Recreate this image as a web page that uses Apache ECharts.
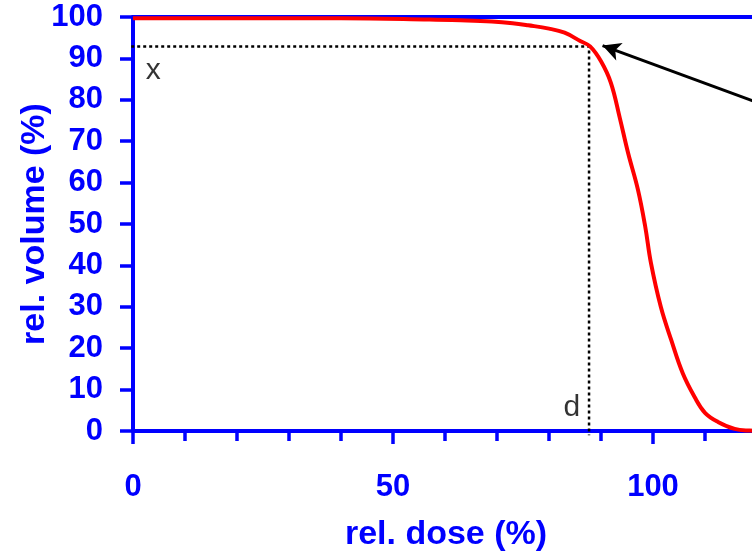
<!DOCTYPE html>
<html>
<head>
<meta charset="utf-8">
<script src="https://cdn.jsdelivr.net/npm/echarts@6/dist/echarts.min.js"></script>
<style>
  html, body { margin: 0; padding: 0; background: #fff; overflow: hidden; }
  /* the plot runs past the right edge of the window, as in the picture */
  #chart { width: 812px; height: 555px; }
</style>
</head>
<body>
<div id="chart"></div>
<script>
// DVH curve
var dose = [0, 40, 57, 63, 69, 73, 76, 80, 83, 86, 87.9, 90, 91.9, 93.6, 95.2, 97.1, 98.5, 99.6, 101.5, 103.5, 105.7, 108, 110, 112.5, 115.7, 118.6, 122, 130]
var volume = [99.7, 99.7, 99.4, 99.2, 98.9, 98.5, 98.0, 97.2, 96.2, 94.2, 92.9, 89.3, 84.1, 75.7, 67.2, 58.3, 49.4, 40.6, 30, 22, 14, 8.2, 4.4, 2.2, 0.5, 0.1, 0, 0]

// dotted guide: from the y axis to the point and down to the x axis
var guideX = [-1.5, 87.7, 87.7]
var guideY = [92.9, 92.9, -1]

// arrow pointing to the curve
var arrowFrom = [126, 76.6]
var arrowTo = [90.3, 93.1]

// text marks
var notes = [
  { name: 'x', value: [3.9, 86.9] },
  { name: 'd', value: [84.4, 5.5] }
]

var xLabels = [0, 50, 100]

var blue = '#0000ff'
var font = "'Liberation Sans', Arial, sans-serif"

var curve = []
for (let i = 0; i < dose.length; i++) {
  curve.push([dose[i], volume[i]])
}
var guide = []
for (let i = 0; i < guideX.length; i++) {
  guide.push([guideX[i], guideY[i]])
}

var myChart = echarts.init(document.getElementById('chart'))
var option = {
  animation: false,
  backgroundColor: '#fff',
  grid: {
    left: 133,
    right: 0,
    top: 17,
    bottom: 124
  },
  xAxis: [{
    type: 'value',
    min: 0,
    max: 130,
    interval: 10,
    position: 'bottom',
    splitLine: { show: false },
    axisLine: { show: true, onZero: false, lineStyle: { color: blue, width: 4 } },
    axisTick: { show: true, length: 10, lineStyle: { color: blue, width: 3.5 } },
    axisLabel: {
      color: blue,
      fontSize: 31,
      fontWeight: 'bold',
      fontFamily: font,
      margin: 41,
      formatter: function(v) {
        return xLabels.indexOf(v) >= 0 ? String(v) : ''
      }
    }
  }, {
    type: 'value',
    min: 0,
    max: 130,
    interval: 50,
    position: 'bottom',
    splitLine: { show: false },
    axisLine: { show: false },
    axisTick: { show: true, length: 13, lineStyle: { color: blue, width: 3.5 } },
    axisLabel: { show: false }
  }, {
    type: 'value',
    min: 0,
    max: 130,
    position: 'top',
    splitLine: { show: false },
    axisLine: { show: true, onZero: false, lineStyle: { color: blue, width: 4 } },
    axisTick: { show: false },
    axisLabel: { show: false }
  }],
  yAxis: {
    type: 'value',
    min: 0,
    max: 100,
    interval: 10,
    name: 'rel. volume (%)',
    nameLocation: 'middle',
    nameGap: 81,
    nameMoveOverlap: false,
    nameTextStyle: {
      color: blue,
      fontSize: 34,
      fontWeight: 'bold',
      fontFamily: font
    },
    splitLine: { show: false },
    axisLine: { show: true, onZero: false, lineStyle: { color: blue, width: 4 } },
    axisTick: { show: true, length: 13, lineStyle: { color: blue, width: 3.5 } },
    axisLabel: {
      color: blue,
      fontSize: 31,
      fontWeight: 'bold',
      fontFamily: font,
      margin: 30
    }
  },
  graphic: [{
    type: 'text',
    x: 446,
    y: 535,
    style: {
      text: 'rel. dose (%)',
      fill: blue,
      font: 'bold 34px ' + font,
      align: 'center',
      verticalAlign: 'middle'
    }
  }],
  series: [{
    type: 'line',
    data: guide,
    clip: false,
    symbol: 'none',
    z: 1,
    lineStyle: { color: '#000', width: 2.5, type: [3, 3] }
  }, {
    type: 'line',
    data: curve,
    symbol: 'none',
    smooth: 0.4,
    z: 2,
    lineStyle: { color: '#ff0000', width: 4 },
    markLine: {
      silent: true,
      symbol: ['none', 'arrow'],
      symbolSize: [14, 18],
      label: { show: false },
      lineStyle: { color: '#000', width: 3, type: 'solid' },
      data: [[{ coord: arrowFrom }, { coord: arrowTo }]]
    }
  }, {
    type: 'scatter',
    data: notes,
    symbolSize: 0,
    label: {
      show: true,
      position: 'inside',
      formatter: '{b}',
      color: '#000',
      fontSize: 30,
      fontFamily: font
    }
  }]
}

myChart.setOption(option)
</script>
</body>
</html>
